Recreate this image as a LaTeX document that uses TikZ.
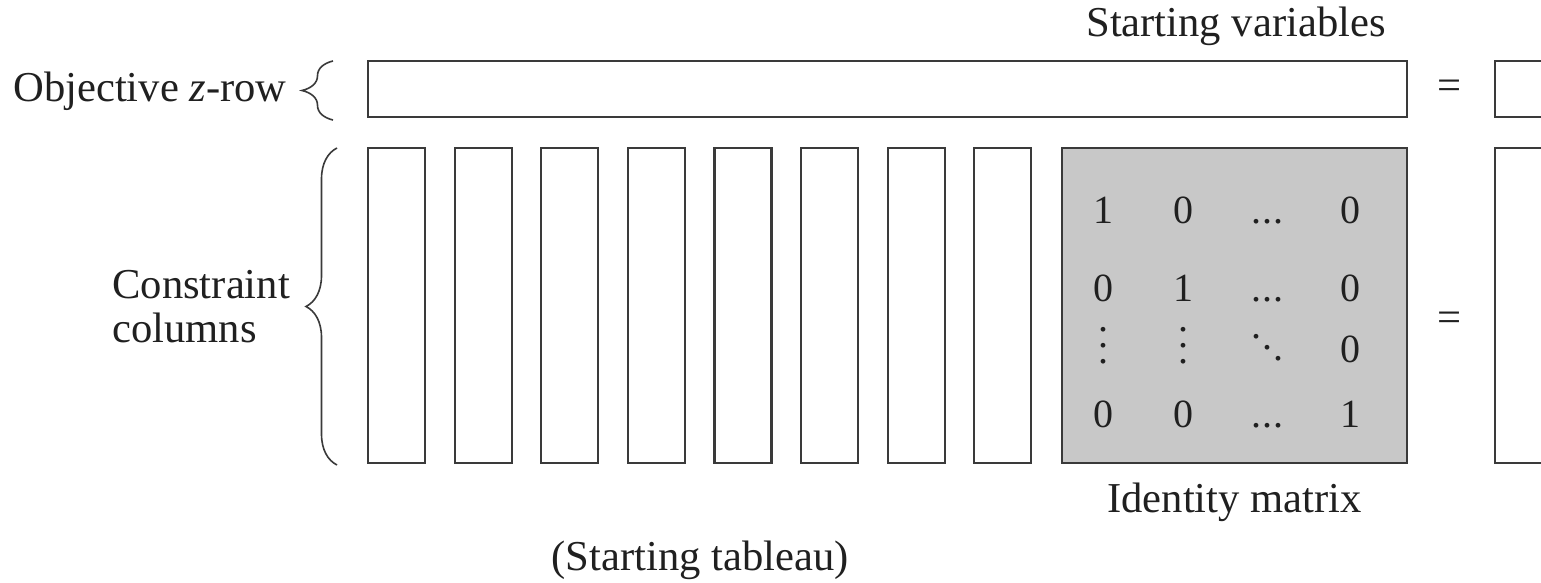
\documentclass[tikz,border=0pt]{standalone}
\usepackage{fontspec}
\setmainfont{Liberation Serif}
\usetikzlibrary{decorations.pathreplacing}
\definecolor{inkc}{HTML}{3A3A3A}
\definecolor{txtc}{HTML}{202020}
\definecolor{graybox}{HTML}{C8C8C8}
\newcommand\tabdots{.\kern0.5pt.\kern0.5pt.}
\newcommand\tabvdots{\vbox{\baselineskip=8pt\lineskiplimit=0pt\hbox{.}\hbox{.}\hbox{.}}}
\newcommand\tabddots{\mbox{\raisebox{11pt}{.}\kern0.5pt\raisebox{5.5pt}{.}\kern0.5pt.}}
\begin{document}
\begin{tikzpicture}[x=0.5pt,y=-0.5pt,
  font=\fontsize{21.3}{26}\selectfont, text=txtc,
  tbox/.style={draw=inkc, line width=1.1pt, inner sep=0pt, fill=white},
  colbox/.style={tbox, minimum width=28.5pt, minimum height=157.5pt},
  lbl/.style={inner sep=0pt, anchor=base},
  ent/.style={inner sep=0pt, anchor=base, font=\fontsize{20}{24}\selectfont},
  brc/.style={draw=inkc, line width=0.8pt, decorate, decoration={brace, amplitude=15.5pt}}]
\useasboundingbox[fill=white] (0,0) rectangle (1541,583);
\clip (0,0) rectangle (1541,583);
% objective row
\node[tbox, minimum width=519.5pt, minimum height=28.3pt] (zrow) at (887.5,89) {};
\node[tbox, minimum width=35pt, minimum height=28.3pt] (zrhs) at (1530,89) {};
\node[lbl] (eq1) at (1449,100) {=};
% constraint columns
\foreach \i in {1,...,8}
  \node[colbox] (c\i) at ({396.5+(\i-1)*86.6},305.5) {};
\node[tbox, fill=graybox, minimum width=172.5pt, minimum height=157.5pt] (idm) at (1234.5,305.5) {};
\node[tbox, minimum width=35pt, minimum height=157.5pt] (rhs) at (1530,305.5) {};
\node[lbl] (eq2) at (1449,331) {=};
% identity entries
\node[ent] (m11) at (1103,223) {1};
\node[ent] (m12) at (1183,223) {0};
\node[ent] (m13) at (1267,223) {\tabdots};
\node[ent] (m14) at (1350,223) {0};
\node[ent] (m21) at (1103,301) {0};
\node[ent] (m22) at (1183,301) {1};
\node[ent] (m23) at (1267,301) {\tabdots};
\node[ent] (m24) at (1350,301) {0};
\node[ent] (m31) at (1103,363) {\tabvdots};
\node[ent] (m32) at (1183,363) {\tabvdots};
\node[ent] (m33) at (1267,360) {\tabddots};
\node[ent] (m34) at (1350,362) {0};
\node[ent] (m41) at (1103,427) {0};
\node[ent] (m42) at (1183,427) {0};
\node[ent] (m43) at (1267,427) {\tabdots};
\node[ent] (m44) at (1350,427) {1};
% labels
\node[lbl, anchor=base east] (objlbl) at (287,101.7) {Objective \textit{z}-row};
\node[lbl] (startvar) at (1236,37) {Starting variables};
\node[lbl, anchor=base west] (cons1) at (112,298) {Constraint};
\node[lbl, anchor=base west] (cons2) at (112,342) {columns};
\node[lbl] (ident) at (1234.5,512) {Identity matrix};
\node[lbl] (tabl) at (700,570) {(Starting tableau)};
% braces
\draw[brc] (333,120) -- (333,61);
\draw[brc] (337,465) -- (337,148);
\end{tikzpicture}
\end{document}
